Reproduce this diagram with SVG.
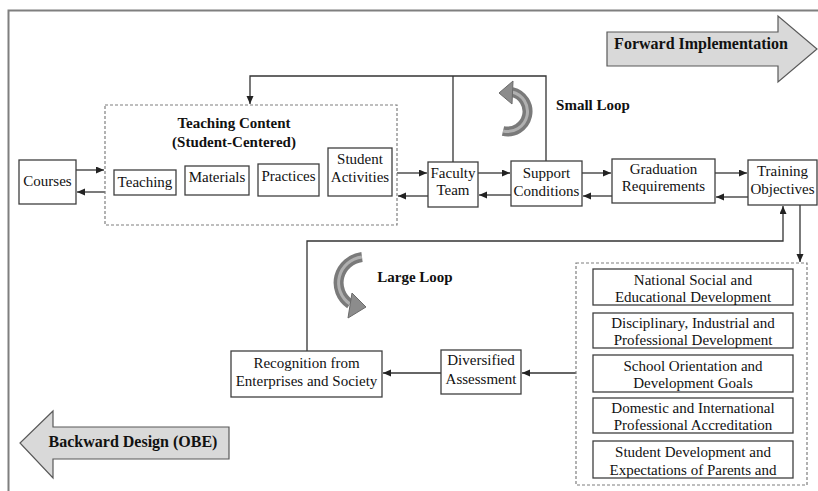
<svg xmlns="http://www.w3.org/2000/svg" width="818" height="491" viewBox="0 0 818 491">
<style>
.b{font-weight:bold}
.box{fill:#fff;stroke:#3f3f3f;stroke-width:1.3}
.dash{fill:none;stroke:#7f7f7f;stroke-width:1.2;stroke-dasharray:3 2}
.ln{fill:none;stroke:#333;stroke-width:1.3}
.big{fill:#d9d9d9;stroke:#595959;stroke-width:1.2}
</style>
<defs>
<marker id="ah" markerUnits="userSpaceOnUse" markerWidth="9" markerHeight="8" refX="8" refY="3.5" orient="auto">
<path d="M0,0 L8,3.5 L0,7 z" fill="#222"/>
</marker>
</defs>
<rect width="818" height="491" fill="#fff"/>
<path d="M8.5,491 V10.5 H818" fill="none" stroke="#7f7f7f" stroke-width="2"/>
<g font-family="'Liberation Serif', 'Times New Roman', serif" font-size="15" fill="#111" text-anchor="middle">

<g id="forward">
<polygon class="big" points="607,32 778,32 778,16 817,49 778,82 778,66 607,66"/>
<text class="b" x="701" y="49" font-size="16">Forward Implementation</text>
</g>
<g id="backward">
<polygon class="big" points="229,427 53,427 53,411 20,443 53,478 53,459 229,459"/>
<text class="b" x="133" y="447" font-size="16">Backward Design (OBE)</text>
</g>

<g id="connectors">
<path class="ln" d="M76,170 H104" marker-end="url(#ah)"/>
<path class="ln" d="M105,192 H77" marker-end="url(#ah)"/>
<path class="ln" d="M397,173 H427" marker-end="url(#ah)"/>
<path class="ln" d="M428,196 H398" marker-end="url(#ah)"/>
<path class="ln" d="M478,173 H510" marker-end="url(#ah)"/>
<path class="ln" d="M511,195 H479" marker-end="url(#ah)"/>
<path class="ln" d="M582,173 H611" marker-end="url(#ah)"/>
<path class="ln" d="M612,196 H583" marker-end="url(#ah)"/>
<path class="ln" d="M715,173 H747" marker-end="url(#ah)"/>
<path class="ln" d="M748,197 H716" marker-end="url(#ah)"/>
<path class="ln" d="M546,161 V76 H250 V104" marker-end="url(#ah)"/>
<path class="ln" d="M453,76 V162"/>
<path class="ln" d="M800,205 V262" marker-end="url(#ah)"/>
<path class="ln" d="M576,373 H522" marker-end="url(#ah)"/>
<path class="ln" d="M441,373 H383" marker-end="url(#ah)"/>
<path class="ln" d="M307,351 V241 H783 V206" marker-end="url(#ah)"/>
</g>

<g id="small-loop">
<path d="M503,131 A20 20 0 0 0 512,92" fill="none" stroke="#7a7a7a" stroke-width="10"/>
<path d="M503,131 A20 20 0 0 0 512,92" fill="none" stroke="#b0b0b0" stroke-width="3"/>
<polygon points="499,93 513,81 512,104" fill="#8c8c8c" stroke="#6a6a6a" stroke-width="1"/>
<text class="b" x="593" y="110">Small Loop</text>
</g>
<g id="large-loop">
<path d="M362,257 A27 26 0 0 0 350,304" fill="none" stroke="#7a7a7a" stroke-width="10"/>
<path d="M362,257 A27 26 0 0 0 350,304" fill="none" stroke="#b0b0b0" stroke-width="3"/>
<polygon points="366,307 352,293 348,318" fill="#8c8c8c" stroke="#6a6a6a" stroke-width="1"/>
<text class="b" x="415" y="282">Large Loop</text>
</g>

<g id="courses">
<rect class="box" x="19" y="160" width="57" height="44"/>
<text x="47.5" y="186">Courses</text>
</g>

<g id="teaching-content">
<rect class="dash" x="105" y="105" width="292" height="120"/>
<text class="b" x="234" y="128">Teaching Content</text>
<text class="b" x="234" y="147">(Student-Centered)</text>
</g>
<g id="teaching">
<rect class="box" x="114" y="170" width="62" height="25"/>
<text x="145" y="187">Teaching</text>
</g>
<g id="materials">
<rect class="box" x="185" y="166" width="64" height="29"/>
<text x="217" y="182">Materials</text>
</g>
<g id="practices">
<rect class="box" x="258" y="164" width="61" height="32"/>
<text x="288.5" y="181">Practices</text>
</g>
<g id="student-activities">
<rect class="box" x="328" y="148" width="64" height="48"/>
<text x="360" y="164">Student</text>
<text x="360" y="182">Activities</text>
</g>

<g id="faculty-team">
<rect class="box" x="428" y="162" width="50" height="45"/>
<text x="453" y="178">Faculty</text>
<text x="453" y="195">Team</text>
</g>
<g id="support-conditions">
<rect class="box" x="511" y="161" width="71" height="45"/>
<text x="546.5" y="178">Support</text>
<text x="546.5" y="196">Conditions</text>
</g>
<g id="graduation-requirements">
<rect class="box" x="612" y="159" width="103" height="44"/>
<text x="663.5" y="174">Graduation</text>
<text x="663.5" y="191">Requirements</text>
</g>
<g id="training-objectives">
<rect class="box" x="748" y="160" width="69" height="45"/>
<text x="782.5" y="176">Training</text>
<text x="782.5" y="194">Objectives</text>
</g>

<g id="requirements-group">
<rect class="dash" x="576" y="263" width="231" height="222"/>
</g>
<g id="national">
<rect class="box" x="593" y="269" width="200" height="36"/>
<text x="693" y="285">National Social and</text>
<text x="693" y="302">Educational Development</text>
</g>
<g id="disciplinary">
<rect class="box" x="593" y="313" width="200" height="35"/>
<text x="693" y="328">Disciplinary, Industrial and</text>
<text x="693" y="345">Professional Development</text>
</g>
<g id="school">
<rect class="box" x="593" y="355" width="200" height="37"/>
<text x="693" y="371">School Orientation and</text>
<text x="693" y="388">Development Goals</text>
</g>
<g id="accreditation">
<rect class="box" x="593" y="398" width="200" height="35"/>
<text x="693" y="413">Domestic and International</text>
<text x="693" y="430">Professional Accreditation</text>
</g>
<g id="student-development">
<text x="693" y="457">Student Development and</text>
<text x="693" y="475">Expectations of Parents and</text>
<rect x="593" y="441" width="200" height="37" fill="none" stroke="#3f3f3f" stroke-width="1.3"/>
</g>

<g id="diversified-assessment">
<rect class="box" x="441" y="350" width="80" height="44"/>
<text x="481" y="365">Diversified</text>
<text x="481" y="384">Assessment</text>
</g>
<g id="recognition">
<rect class="box" x="231" y="351" width="151" height="46"/>
<text x="306.5" y="368">Recognition from</text>
<text x="306.5" y="386">Enterprises and Society</text>
</g>
</g>
</svg>
